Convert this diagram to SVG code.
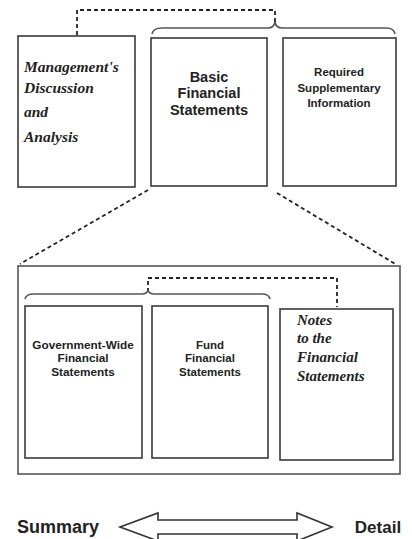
<svg xmlns="http://www.w3.org/2000/svg" width="412" height="539" viewBox="0 0 412 539">
<style>
.box{fill:#fff;stroke:#3a3a3a;stroke-width:1.6}
.big{fill:none;stroke:#555;stroke-width:1.6}
.dash{fill:none;stroke:#222;stroke-width:1.8;stroke-dasharray:4 3}
.brace{fill:none;stroke:#555;stroke-width:1.6}
.sans{font-family:"Liberation Sans",Arial,sans-serif;font-weight:bold;fill:#222;text-anchor:middle}
.script{font-family:"Liberation Serif","DejaVu Serif",serif;font-style:italic;font-weight:bold;fill:#222}
</style>
<rect width="412" height="539" fill="#fff"/>
<g id="connectors">
<path class="dash" d="M77,35 V10 H275 V22"/>
<path class="brace" d="M152,34 Q153,28 162,28 H268 Q274,28 275,22 Q276,28 282,28 H386 Q394,28 395,34"/>
<path class="dash" d="M148,190 L20,264"/>
<path class="dash" d="M277,193 L397,265"/>
<path class="dash" d="M148,292 V278 H337 V307"/>
<path class="brace" d="M25,299 Q26,294 34,294 H142 Q147,294 148,290 Q149,294 154,294 H262 Q269,294 270,299"/>
</g>
<g id="mdna">
<rect class="box" x="18" y="36" width="117" height="151"/>
<text class="script" font-size="15.5"><tspan x="24" y="72">Management's</tspan><tspan x="24" y="93">Discussion</tspan><tspan x="24" y="117">and</tspan><tspan x="24" y="142">Analysis</tspan></text>
</g>
<g id="basic">
<rect class="box" x="151" y="38" width="116" height="148"/>
<text class="sans" font-size="14.5"><tspan x="209" y="82">Basic</tspan><tspan x="209" y="98">Financial</tspan><tspan x="209" y="115">Statements</tspan></text>
</g>
<g id="rsi">
<rect class="box" x="283" y="38" width="113" height="148"/>
<text class="sans" font-size="11.5"><tspan x="339" y="76">Required</tspan><tspan x="339" y="92">Supplementary</tspan><tspan x="339" y="107">Information</tspan></text>
</g>
<g id="bfs-detail">
<rect class="big" x="18" y="266" width="382" height="208"/>
</g>
<g id="govwide">
<rect class="box" x="25" y="306" width="117" height="152"/>
<text class="sans" font-size="11.8"><tspan x="83" y="349">Government-Wide</tspan><tspan x="83" y="362">Financial</tspan><tspan x="83" y="376">Statements</tspan></text>
</g>
<g id="fund">
<rect class="box" x="152" y="306" width="116" height="152"/>
<text class="sans" font-size="11.5"><tspan x="210" y="349">Fund</tspan><tspan x="210" y="362">Financial</tspan><tspan x="210" y="376">Statements</tspan></text>
</g>
<g id="notes">
<rect class="box" x="280" y="309" width="113" height="151"/>
<text class="script" font-size="15"><tspan x="297" y="325">Notes</tspan><tspan x="297" y="343">to the</tspan><tspan x="297" y="362">Financial</tspan><tspan x="297" y="381">Statements</tspan></text>
</g>
<g id="scale">
<text class="sans" font-size="18" x="17" y="533" style="text-anchor:start">Summary</text>
<polygon points="120,527 158,513 158,520 297,520 297,513 332,527 297,541 297,534 158,534 158,541" fill="#fff" stroke="#333" stroke-width="1.6"/>
<text class="sans" font-size="17" x="378" y="533">Detail</text>
</g>
</svg>
